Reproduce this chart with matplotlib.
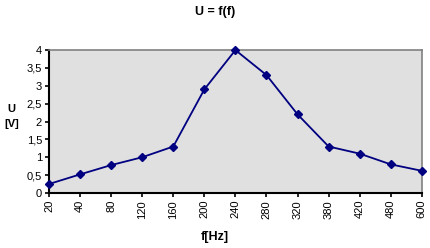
import matplotlib
matplotlib.use('Agg')
import matplotlib.pyplot as plt

# frequency categories and measured voltage
freq_labels = ['20', '40', '80', '120', '160', '200', '240', '280', '320', '380', '420', '480', '600']
voltage = [0.25, 0.52, 0.78, 1.0, 1.3, 2.9, 4.0, 3.3, 2.2, 1.3, 1.1, 0.8, 0.62]
y_ticks = [0, 0.5, 1, 1.5, 2, 2.5, 3, 3.5, 4]
y_tick_labels = ['0', '0,5', '1', '1,5', '2', '2,5', '3', '3,5', '4']

plt.rcParams['font.family'] = ['Liberation Sans', 'DejaVu Sans']

fig = plt.figure(figsize=(4.3, 2.48), dpi=100)
ax = fig.add_axes([0.114, 0.222, 0.867, 0.576])
ax.set_facecolor('#e0e0e0')

x = list(range(len(voltage)))
ax.plot(x, voltage, color='#000080', lw=1.3, marker='D', ms=4.5, clip_on=False, zorder=3)

ax.set_xlim(0, len(voltage) - 1)
ax.set_ylim(0, 4)
ax.set_xticks(x)
ax.set_xticklabels(freq_labels, rotation=90, fontsize=8)
ax.set_yticks(y_ticks)
ax.set_yticklabels(y_tick_labels, fontsize=8)
ax.tick_params(direction='out', length=3, width=1.2, pad=2)

for side in ['top', 'right']:
    ax.spines[side].set_color('#808080')
    ax.spines[side].set_linewidth(1.2)
for side in ['left', 'bottom']:
    ax.spines[side].set_color('black')
    ax.spines[side].set_linewidth(1.5)

fig.text(0.5, 0.95, 'U = f(f)', ha='center', va='center', fontsize=9, fontweight='bold')
fig.text(0.5, 0.045, 'f[Hz]', ha='center', va='center', fontsize=9, fontweight='bold')
fig.text(0.027, 0.53, 'U\n[V]', ha='center', va='center', fontsize=8, fontweight='bold', linespacing=1.6)

fig.savefig('out.png', dpi=100)
